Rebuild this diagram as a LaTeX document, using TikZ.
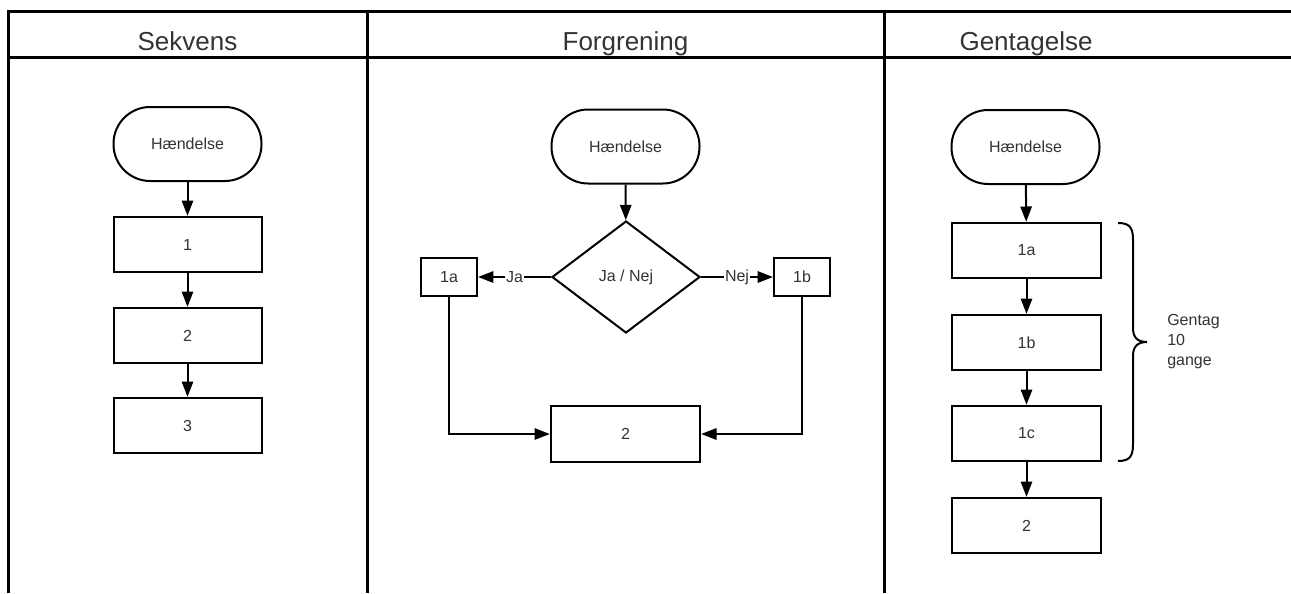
\documentclass[tikz,border=0pt]{standalone}
\usepackage{fontspec}
\setmainfont{Liberation Sans}
\usetikzlibrary{shapes.geometric,arrows.meta}
\definecolor{txt}{HTML}{333333}
\tikzset{
  grid/.style={line width=2.25pt, black},
  base/.style={draw=black, line width=1.5pt, fill=white, text=txt, inner sep=0pt,
    font=\fontsize{12}{14}\selectfont},
  terminal/.style={base, rectangle, rounded corners=27.5pt, minimum width=111pt, minimum height=55.5pt},
  stepbox/.style={base, rectangle, minimum width=111pt, minimum height=41.5pt},
  smallbox/.style={base, rectangle, minimum width=42pt, minimum height=28.5pt},
  decision/.style={base, diamond, minimum width=111pt, minimum height=84pt},
  flow/.style={line width=1.5pt, -{Triangle[length=11.5pt,width=8.5pt]}},
  lbl/.style={fill=white, text=txt, inner sep=0.8pt, font=\fontsize{12}{14}\selectfont},
  head/.style={text=txt, anchor=base, inner sep=0pt, font=\fontsize{19.5}{22}\selectfont},
}
\begin{document}
\begin{tikzpicture}[x=0.75pt, y=-0.75pt]
\useasboundingbox (0,0) rectangle (1291,593);

% table frame
\draw[grid] (8,11) -- (1291,11);
\draw[grid] (8,57) -- (1291,57);
\draw[grid] (8,10) -- (8,593);
\draw[grid] (367,10) -- (367,593);
\draw[grid] (884,10) -- (884,593);

\node[head] (h1) at (187.5,50) {Sekvens};
\node[head] (h2) at (625.5,50) {Forgrening};
\node[head] (h3) at (1026,50) {Gentagelse};

% sequence
\node[terminal] (s0) at (187.5,144) {Hændelse};
\node[stepbox] (s1) at (187.5,244.5) {1};
\node[stepbox] (s2) at (187.5,335.5) {2};
\node[stepbox] (s3) at (187.5,425.5) {3};
\draw[flow] (s0) -- (s1);
\draw[flow] (s1) -- (s2);
\draw[flow] (s2) -- (s3);

% branching
\node[terminal] (f0) at (625.5,146.5) {Hændelse};
\node[decision] (fd) at (626,277) {Ja / Nej};
\node[smallbox] (fa) at (449,277) {1a};
\node[smallbox] (fb) at (802,277) {1b};
\node[stepbox, minimum width=112pt, minimum height=42pt] (f2) at (625.5,434) {2};
\draw[flow] (f0) -- (fd);
\draw[flow] (fd) -- node[lbl] {Ja} (fa);
\draw[flow] (fd) -- node[lbl] {Nej} (fb);
\draw[flow] (fa.south) |- (f2.west);
\draw[flow] (fb.south) |- (f2.east);

% repetition
\node[terminal] (g0) at (1025.5,147) {Hændelse};
\node[stepbox, minimum width=112pt] (ga) at (1026.5,250.5) {1a};
\node[stepbox, minimum width=112pt] (gb) at (1026.5,342.5) {1b};
\node[stepbox, minimum width=112pt] (gc) at (1026.5,433.5) {1c};
\node[stepbox, minimum width=112pt] (g2) at (1026.5,525.5) {2};
\draw[flow] (g0) -- (ga);
\draw[flow] (ga) -- (gb);
\draw[flow] (gb) -- (gc);
\draw[flow] (gc) -- (g2);

\draw[line width=1.5pt] (1118,223) .. controls (1130,223) and (1133,228) .. (1133,240)
  -- (1133,328) .. controls (1133,337) and (1137,342) .. (1147,342)
  .. controls (1137,342) and (1133,347) .. (1133,356)
  -- (1133,444) .. controls (1133,456) and (1130,461) .. (1118,461);
\node[anchor=west, align=left, text=txt, inner sep=0pt,
  font=\fontsize{12}{15}\selectfont] (gt) at (1167,342) {Gentag\\10\\gange};
\end{tikzpicture}
\end{document}
